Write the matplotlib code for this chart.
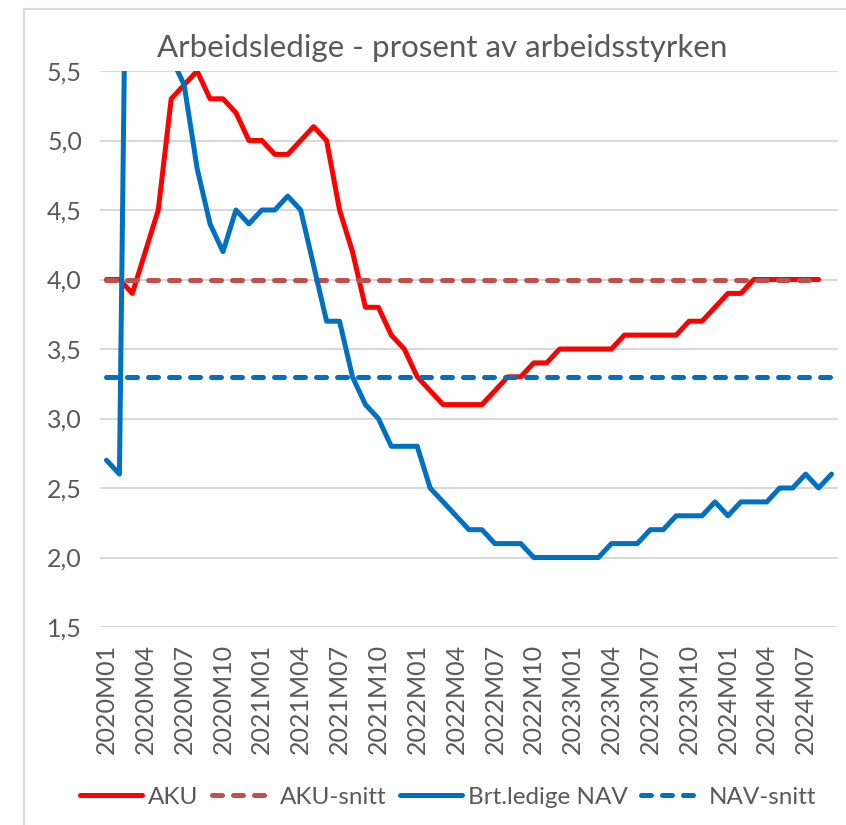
import matplotlib
matplotlib.use('Agg')
import matplotlib.pyplot as plt
from matplotlib.lines import Line2D

plt.rcParams['font.family'] = ['Lato', 'DejaVu Sans']

# months 2020M01 .. 2024M09
months = ['%dM%02d' % (y, m) for y in range(2020, 2025) for m in range(1, 13)][:57]

aku = [4.0, 4.0, 3.9, 4.2, 4.5, 5.3, 5.4, 5.5, 5.3, 5.3, 5.2, 5.0,
       5.0, 4.9, 4.9, 5.0, 5.1, 5.0, 4.5, 4.2, 3.8, 3.8, 3.6, 3.5,
       3.3, 3.2, 3.1, 3.1, 3.1, 3.1, 3.2, 3.3, 3.3, 3.4, 3.4, 3.5,
       3.5, 3.5, 3.5, 3.5, 3.6, 3.6, 3.6, 3.6, 3.6, 3.7, 3.7, 3.8,
       3.9, 3.9, 4.0, 4.0, 4.0, 4.0, 4.0, 4.0]
aku_snitt = 4.0

nav = [2.7, 2.6, 10.4, 10.7, 7.0, 5.6, 5.4, 4.8, 4.4, 4.2, 4.5, 4.4,
       4.5, 4.5, 4.6, 4.5, 4.1, 3.7, 3.7, 3.3, 3.1, 3.0, 2.8, 2.8,
       2.8, 2.5, 2.4, 2.3, 2.2, 2.2, 2.1, 2.1, 2.1, 2.0, 2.0, 2.0,
       2.0, 2.0, 2.0, 2.1, 2.1, 2.1, 2.2, 2.2, 2.3, 2.3, 2.3, 2.4,
       2.3, 2.4, 2.4, 2.4, 2.5, 2.5, 2.6, 2.5, 2.6]
nav_snitt = 3.3

yticks = [1.5, 2.0, 2.5, 3.0, 3.5, 4.0, 4.5, 5.0, 5.5]

grey = '#595959'
lw = 3.6

fig = plt.figure(figsize=(8.46, 8.25), dpi=100)
ax = fig.add_axes([100/846, 1-627/825, 738/846, 556/825])

xa = range(len(aku))
xn = range(len(nav))
ax.plot(xa, aku, color='#FF0000', lw=lw, solid_capstyle='round', solid_joinstyle='round', label='AKU')
ax.plot(xa, [aku_snitt]*len(aku), color='#C0504D', lw=lw, dashes=(2.0, 2.2),
        dash_capstyle='round', label='AKU-snitt')
ax.plot(xn, nav, color='#0070C0', lw=lw, solid_capstyle='round', solid_joinstyle='round',
        label='Brt.ledige NAV')
ax.plot(xn, [nav_snitt]*len(nav), color='#0070C0', lw=lw, dashes=(2.0, 2.2),
        dash_capstyle='round', label='NAV-snitt')

ax.set_ylim(1.5, 5.5)
ax.set_xlim(-0.5, len(months) - 0.5)
ax.set_yticks(yticks)
ax.set_yticklabels([('%.1f' % v).replace('.', ',') for v in yticks])
ax.set_xticks(range(0, len(months) - 2, 3))
ax.set_xticklabels(months[0:len(months) - 2:3], rotation=90)
ax.tick_params(axis='both', length=0, labelsize=18, colors=grey)
ax.tick_params(axis='y', pad=13)
ax.tick_params(axis='x', pad=12)
ax.grid(axis='y', color='#D9D9D9', lw=1.5)
ax.set_axisbelow(True)
for s in ax.spines.values():
    s.set_visible(False)

fig.text(442/846, 1-48/825, 'Arbeidsledige - prosent av arbeidsstyrken',
         ha='center', va='center', fontsize=22.5, color=grey)

fig.legend(loc='center', bbox_to_anchor=(448/846, 1-797/825), ncol=4, frameon=False,
           fontsize=17.5, labelcolor=grey, handlelength=2.55, handletextpad=0.25,
           columnspacing=0.55)

# chart area border (only top and left visible)
fig.add_artist(Line2D([24/846, 24/846], [0, 1-9/825], color='#D9D9D9', lw=1.5))
fig.add_artist(Line2D([24/846, 1], [1-9/825, 1-9/825], color='#D9D9D9', lw=1.5))

fig.savefig('out.png', dpi=100)
